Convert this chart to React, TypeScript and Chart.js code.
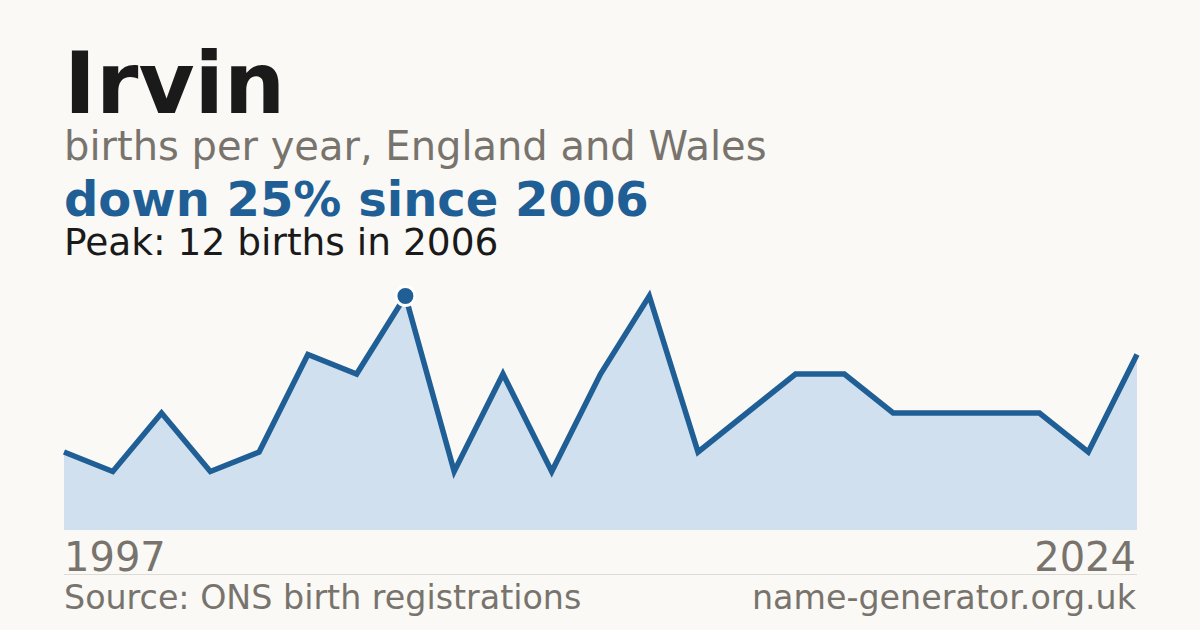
import { useEffect, useRef } from 'react';
import Chart from 'chart.js/auto';

// years with published counts (some low-count years are absent)
const years = [
  '1997', '1998', '1999', '2000', '2001', '2003', '2005', '2006',
  '2007', '2008', '2009', '2010', '2012', '2013', '2014', '2016',
  '2017', '2018', '2020', '2021', '2022', '2023', '2024'
];
const births = [4, 3, 6, 3, 4, 9, 8, 12, 3, 8, 3, 8, 12, 4, 6, 8, 8, 6, 6, 6, 6, 4, 9];
const peakIndex = 7;

const FONT = '"DejaVu Sans", Verdana, sans-serif';
const BLUE = '#1f5f96';
const GREY = '#78746d';

export default function App() {
  const canvasRef = useRef<HTMLCanvasElement | null>(null);
  const chartRef = useRef<Chart | null>(null);

  useEffect(() => {
    if (!canvasRef.current) return;
    const ctx = canvasRef.current.getContext('2d');
    if (!ctx) return;

    chartRef.current = new Chart(ctx, {
      type: 'line',
      data: {
        labels: years,
        datasets: [{
          data: births,
          borderColor: BLUE,
          borderWidth: 5.5,
          backgroundColor: '#d0e0ef',
          fill: 'origin',
          tension: 0,
          clip: false as any,
          pointRadius: births.map((_, i) => (i === peakIndex ? 9.5 : 0)),
          pointBorderWidth: 3,
          pointBorderColor: '#ffffff',
          pointBackgroundColor: BLUE,
          pointHoverRadius: 0
        }]
      },
      options: {
        animation: false,
        responsive: false,
        maintainAspectRatio: false,
        layout: { padding: { left: 64, right: 63, top: 26, bottom: 2 } },
        plugins: { legend: { display: false }, tooltip: { enabled: false } },
        scales: {
          x: { display: false, offset: false },
          y: { display: false, min: 0, max: 12 }
        }
      }
    });

    return () => {
      chartRef.current?.destroy();
      chartRef.current = null;
    };
  }, []);

  const text = (top: number, size: number, color: string, bold = false): React.CSSProperties => ({
    position: 'absolute',
    top,
    left: 64,
    fontSize: size,
    lineHeight: 1,
    color,
    fontWeight: bold ? 'bold' : 'normal',
    whiteSpace: 'nowrap'
  });

  return (
    <div style={{
      position: 'fixed', left: 0, top: 0, width: 1200, height: 630,
      background: '#faf9f5', fontFamily: FONT, overflow: 'hidden'
    }}>
      <div style={text(40, 86, '#1a1a1a', true)}>Irvin</div>
      <div style={text(126, 40, GREY)}>births per year, England and Wales</div>
      <div style={text(175, 48, BLUE, true)}>down 25% since 2006</div>
      <div style={text(223.5, 37.5, '#1a1a1a')}>Peak: 12 births in 2006</div>

      <canvas
        ref={canvasRef}
        width={1200}
        height={262}
        style={{ position: 'absolute', left: 0, top: 270, width: 1200, height: 262 }}
      />

      <div style={text(537, 40, GREY)}>{years[0]}</div>
      <div style={{ ...text(537, 40, GREY), left: 'auto', right: 64 }}>{years[years.length - 1]}</div>
      <div style={{ position: 'absolute', left: 64, top: 574, width: 1073, height: 1, background: '#dddbd5' }} />
      <div style={text(581, 33.3, GREY)}>Source: ONS birth registrations</div>
      <div style={{ ...text(581, 33.3, GREY), left: 'auto', right: 64 }}>name-generator.org.uk</div>
    </div>
  );
}
